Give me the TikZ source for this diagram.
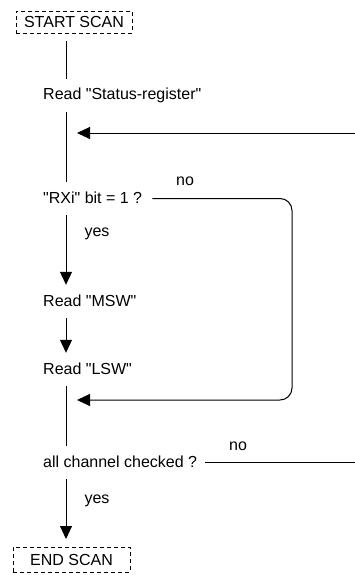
\documentclass[tikz,border=0pt]{standalone}
\usepackage{fontspec}
\setmainfont{Liberation Sans}[Ligatures=TeXOff]
\usetikzlibrary{arrows.meta,positioning,calc}

\begin{document}
\begin{tikzpicture}[x=1pt,y=-1pt,
  every node/.style={font=\fontsize{16}{19}\selectfont},
  flowtext/.style={anchor=base west,inner xsep=0pt,inner ysep=9pt,text height=12pt,text depth=3pt},
  termbox/.style={draw,dash pattern=on 4pt off 3pt,line width=.9pt,inner sep=0pt,outer ysep=8pt},
  flowline/.style={line width=1pt},
  flowarrow/.style={flowline,-{Triangle[length=13pt,width=12pt]}}]
\useasboundingbox (0,0) rectangle (355,575);
\coordinate (spine) at (66,0);
\coordinate (bend) at (292,0);
\coordinate (retin) at (355,133);
\coordinate (join1) at (77,133);
\coordinate (join2) at (77,400);
% terminals
\node[termbox,minimum width=116pt,minimum height=22pt] (start) at (74,22) {START SCAN};
\node[termbox,minimum width=117pt,minimum height=25pt] (endscan) at (71.5,559.5) {END SCAN};
% steps of the scan
\foreach \nm/\yy/\txt in {readsr/100/Read "Status-register",rxi/203/"RXi" bit = 1 ?,
  msw/306/Read "MSW",lsw/374/Read "LSW",allch/467/all channel checked ?}
 \node[flowtext] (\nm) at (43,\yy) {\txt};
\node (yes1) at (97,234) {yes};
\node (yes2) at (97,501) {yes};
\node (no1) at (185,181) {no};
\node (no2) at (238,446) {no};
% main line
\draw[flowline] (start.south -| spine) -- (readsr.north -| spine);
\draw[flowline] (readsr.south -| spine) -- (rxi.north -| spine);
\draw[flowarrow] (rxi.south -| spine) -- (msw.north -| spine);
\draw[flowarrow] (msw.south -| spine) -- (lsw.north -| spine);
\draw[flowline] (lsw.south -| spine) -- (allch.north -| spine);
\draw[flowarrow] (allch.south -| spine) -- (endscan.north -| spine);
% returns
\draw[flowarrow] (retin) -- (join1);
\draw[flowarrow,rounded corners=12pt] ([xshift=10pt]rxi.east) -- (rxi.east -| bend) -- (join2 -| bend) -- (join2);
\draw[flowline] ([xshift=8pt]allch.east) -- (allch.east -| retin);
\end{tikzpicture}
\end{document}
